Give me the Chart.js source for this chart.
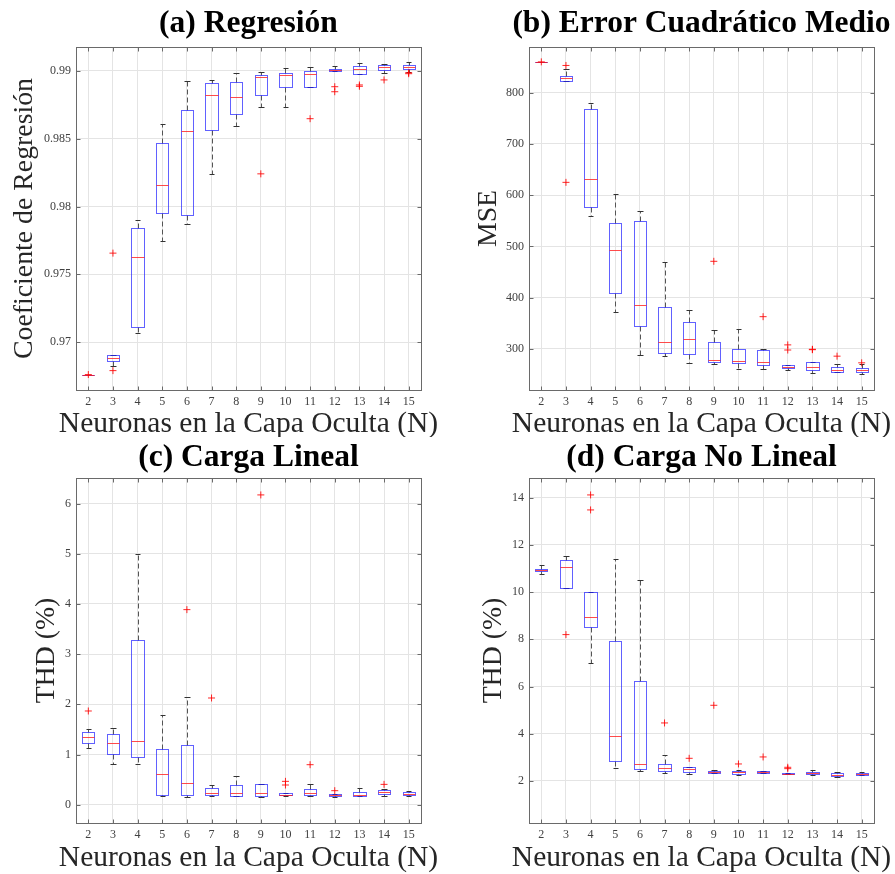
<!DOCTYPE html>
<html>
<head>
<meta charset="utf-8">
<script src="https://cdn.jsdelivr.net/npm/chart.js@4.4.0/dist/chart.umd.min.js"></script>
<style>
  body { margin: 0; background: #fff; }
  .panel { position: absolute; }
</style>
</head>
<body>
<div class="panel" style="left:0;top:0"><canvas id="chartA" width="447" height="437"></canvas></div>
<div class="panel" style="left:447px;top:0"><canvas id="chartB" width="448" height="437"></canvas></div>
<div class="panel" style="left:0;top:437px"><canvas id="chartC" width="447" height="437"></canvas></div>
<div class="panel" style="left:447px;top:437px"><canvas id="chartD" width="448" height="437"></canvas></div>
<script>
// categorias comunes
const neuronas = [2, 3, 4, 5, 6, 7, 8, 9, 10, 11, 12, 13, 14, 15];
const ejeX = 'Neuronas en la Capa Oculta (N)';

// (a) Regresion
const regMin = [0.9676, 0.9682, 0.97066, 0.97742, 0.9787, 0.98243, 0.98595, 0.98737, 0.98735, 0.9888, 0.98998, 0.98975, 0.98985, 0.9899];
const regQ1  = [0.9676, 0.96862, 0.97111, 0.97951, 0.97941, 0.98568, 0.98681, 0.98821, 0.9888, 0.98884, 0.98998, 0.98975, 0.9901, 0.99017];
const regMed = [0.9676, 0.96882, 0.97627, 0.98157, 0.98555, 0.98823, 0.98806, 0.98953, 0.98968, 0.98975, 0.99005, 0.99013, 0.99032, 0.99032];
const regQ3  = [0.9676, 0.96902, 0.97838, 0.98472, 0.9871, 0.98912, 0.98916, 0.98973, 0.98983, 0.98998, 0.99015, 0.99035, 0.99047, 0.99044];
const regMax = [0.9676, 0.96902, 0.97904, 0.98609, 0.98924, 0.98934, 0.98985, 0.98995, 0.99025, 0.99027, 0.99037, 0.99057, 0.99052, 0.99069];
const regOut = [[0.9676], [0.97656, 0.96789], [], [], [], [], [], [0.98241], [], [0.98648], [0.98884, 0.98847], [0.98897, 0.98887], [0.98934], [0.98987, 0.9898]];
const regTicks = [0.97, 0.975, 0.98, 0.985, 0.99];

// (b) Error cuadratico medio
const mseMin = [860, 822, 558.8, 372.2, 287.6, 285.7, 272, 270, 261, 261, 259, 253, 254.6, 250.6];
const mseQ1  = [860, 822.8, 576.3, 408.6, 344.9, 291.5, 289.6, 274.6, 272, 268.2, 263.5, 259, 255.7, 255.7];
const mseMed = [860, 828, 632.3, 493, 385.8, 314.3, 318.9, 279.2, 276, 275.3, 265.5, 264.3, 259, 259];
const mseQ3  = [860, 833, 767.5, 546.4, 549, 382.6, 352.7, 314.3, 299.4, 297.4, 268.5, 274, 264.3, 262.3];
const mseMax = [860, 845.5, 779.8, 601.7, 568.5, 469, 375.4, 337.7, 338.4, 299.4, 268.5, 274, 271, 270];
const mseOut = [[860], [853, 625], [], [], [], [], [], [471], [], [363], [308, 298], [299.4, 298.6], [286], [273]];
const mseTicks = [300, 400, 500, 600, 700, 800];

// (c) Carga lineal
const linMin = [1.13, 0.81, 0.81, 0.166, 0.16, 0.18, 0.166, 0.153, 0.166, 0.18, 0.16, 0.166, 0.18, 0.179];
const linQ1  = [1.229, 1.01, 0.944, 0.186, 0.193, 0.2, 0.166, 0.166, 0.186, 0.2, 0.166, 0.18, 0.219, 0.193];
const linMed = [1.349, 1.236, 1.276, 0.611, 0.425, 0.233, 0.233, 0.233, 0.2, 0.226, 0.186, 0.2, 0.252, 0.219];
const linQ3  = [1.449, 1.415, 3.282, 1.103, 1.189, 0.333, 0.4, 0.419, 0.233, 0.313, 0.206, 0.259, 0.285, 0.245];
const linMax = [1.502, 1.522, 5.003, 1.781, 2.14, 0.39, 0.578, 0.419, 0.233, 0.412, 0.213, 0.325, 0.306, 0.272];
const linOut = [[1.867], [], [], [], [3.887], [2.126], [], [6.173], [0.465, 0.392], [0.797], [0.279], [], [0.405], []];
const linTicks = [0, 1, 2, 3, 4, 5, 6];

// (d) Carga no lineal
const nlMin = [10.767, 10.16, 7.0, 2.551, 2.438, 2.353, 2.296, 2.325, 2.268, 2.325, 2.282, 2.24, 2.169, 2.254];
const nlQ1  = [10.88, 10.16, 8.523, 2.833, 2.494, 2.409, 2.367, 2.325, 2.296, 2.325, 2.282, 2.296, 2.212, 2.254];
const nlMed = [10.937, 11.05, 8.946, 3.906, 2.72, 2.565, 2.522, 2.381, 2.367, 2.367, 2.311, 2.339, 2.268, 2.296];
const nlQ3  = [10.993, 11.346, 10.005, 7.93, 6.25, 2.72, 2.607, 2.424, 2.424, 2.409, 2.353, 2.381, 2.339, 2.339];
const nlMax = [11.149, 11.53, 10.005, 11.403, 10.5, 3.115, 2.607, 2.466, 2.452, 2.424, 2.353, 2.466, 2.395, 2.367];
const nlOut = [[], [8.198], [14.113, 13.478], [], [], [4.457], [2.96], [5.205], [2.72], [3.017], [2.579, 2.522], [], [], []];
const nlTicks = [2, 4, 6, 8, 10, 12, 14];

const fuente = "'Liberation Serif', 'DejaVu Serif', serif";

function px(v) { return Math.round(v) + 0.5; }

// dibuja cajas, bigotes, medianas, marco y rotulos con las escalas del grafico
function cajasPlugin(st, titulo, geo) {
  return {
    id: 'cajas',
    beforeDatasetsDraw(chart) {
      const { ctx, scales: { x, y }, chartArea: a } = chart;
      ctx.save();
      ctx.beginPath();
      ctx.rect(a.left, a.top, a.width, a.height);
      ctx.clip();
      ctx.lineWidth = 1;
      function linea(x1, y1, x2, y2) {
        ctx.beginPath(); ctx.moveTo(x1, y1); ctx.lineTo(x2, y2); ctx.stroke();
      }
      neuronas.forEach(function (n, i) {
        const xc = px(x.getPixelForValue(n));
        const xl = px(x.getPixelForValue(n - 0.25));
        const xr = px(x.getPixelForValue(n + 0.25));
        const cl = px(x.getPixelForValue(n - 0.11));
        const cr = px(x.getPixelForValue(n + 0.11));
        const yMin = px(y.getPixelForValue(st.min[i]));
        const yQ1 = px(y.getPixelForValue(st.q1[i]));
        const yMed = px(y.getPixelForValue(st.med[i]));
        const yQ3 = px(y.getPixelForValue(st.q3[i]));
        const yMax = px(y.getPixelForValue(st.max[i]));
        // bigotes
        ctx.strokeStyle = '#555';
        ctx.setLineDash([5, 3]);
        if (yMax < yQ3) linea(xc, yQ3, xc, yMax);
        if (yMin > yQ1) linea(xc, yQ1, xc, yMin);
        ctx.setLineDash([]);
        ctx.strokeStyle = '#333';
        linea(cl, yMax, cr, yMax);
        linea(cl, yMin, cr, yMin);
        // caja
        ctx.strokeStyle = 'rgba(30,30,255,0.7)';
        ctx.strokeRect(xl, yQ3, xr - xl, yQ1 - yQ3);
        // mediana
        ctx.strokeStyle = 'rgba(255,30,30,0.8)';
        linea(xl, yMed, xr, yMed);
      });
      ctx.restore();
    },
    afterDraw(chart) {
      const { ctx, scales: { x, y }, chartArea: a } = chart;
      ctx.save();
      ctx.strokeStyle = '#6a6a6a';
      ctx.lineWidth = 1;
      const l = px(a.left), r = px(a.right), t = px(a.top), b = px(a.bottom);
      ctx.strokeRect(l, t, r - l, b - t);
      ctx.beginPath();
      y.ticks.forEach(function (tk) {
        const yy = px(y.getPixelForValue(tk.value));
        ctx.moveTo(l, yy); ctx.lineTo(l + 4, yy);
        ctx.moveTo(r, yy); ctx.lineTo(r - 4, yy);
      });
      x.ticks.forEach(function (tk) {
        const xx = px(x.getPixelForValue(tk.value));
        ctx.moveTo(xx, b); ctx.lineTo(xx, b - 4);
        ctx.moveTo(xx, t); ctx.lineTo(xx, t + 4);
      });
      ctx.stroke();
      // titulo del panel y del eje x, centrados sobre el area del grafico
      const cx = (a.left + a.right) / 2;
      ctx.textAlign = 'center';
      ctx.textBaseline = 'alphabetic';
      ctx.fillStyle = '#000';
      ctx.font = 'bold 31.5px ' + fuente;
      ctx.fillText(titulo, cx, geo.tBase);
      ctx.fillStyle = '#262626';
      ctx.font = '29.5px ' + fuente;
      ctx.fillText(ejeX, cx, geo.xBase);
      ctx.restore();
    }
  };
}

function crearPanel(id, titulo, ejeY, st, salidas, yMin, yMax, yTicks, geo) {
  const puntos = [];
  neuronas.forEach(function (n, i) {
    salidas[i].forEach(function (v) { puntos.push({ x: n, y: v }); });
  });
  return new Chart(document.getElementById(id), {
    type: 'scatter',
    data: {
      datasets: [{
        data: puntos,
        pointStyle: 'cross',
        radius: 3.5,
        borderColor: 'rgba(255,0,0,0.85)',
        backgroundColor: 'rgba(255,0,0,0.85)',
        borderWidth: 1
      }]
    },
    options: {
      responsive: false,
      animation: false,
      events: [],
      layout: { padding: { left: 0, right: geo.right, top: geo.top, bottom: 0 } },
      plugins: {
        legend: { display: false },
        tooltip: { enabled: false },
        title: { display: false }
      },
      scales: {
        x: {
          type: 'linear',
          min: 1.5,
          max: 15.5,
          afterBuildTicks: function (s) { s.ticks = neuronas.map(function (v) { return { value: v }; }); },
          afterFit: function (s) { s.height = geo.xh; },
          grid: { color: '#e4e4e4', drawTicks: false },
          border: { display: false },
          ticks: {
            padding: 5, color: '#404040', autoSkip: false, maxRotation: 0,
            font: { family: fuente, size: 12 },
            callback: function (v) { return String(v); }
          }
        },
        y: {
          type: 'linear',
          min: yMin,
          max: yMax,
          afterBuildTicks: function (s) { s.ticks = yTicks.map(function (v) { return { value: v }; }); },
          afterFit: function (s) { s.width = geo.yw; },
          grid: { color: '#e4e4e4', drawTicks: false },
          border: { display: false },
          ticks: {
            padding: 5, color: '#404040',
            font: { family: fuente, size: 12 },
            callback: function (v) { return String(v); }
          },
          title: {
            display: true,
            text: ejeY,
            color: '#262626',
            font: { family: fuente, size: 27.8, lineHeight: 1 },
            padding: { top: geo.yp, bottom: 0 }
          }
        }
      }
    },
    plugins: [cajasPlugin(st, titulo, geo)]
  });
}

crearPanel('chartA', '(a) Regresión', 'Coeficiente de Regresión',
  { min: regMin, q1: regQ1, med: regMed, q3: regQ3, max: regMax }, regOut,
  0.96646, 0.99177, regTicks,
  { yw: 76, right: 26, top: 47, xh: 47, tBase: 31.7, xBase: 432, yp: 11 });

crearPanel('chartB', '(b) Error Cuadrático Medio', 'MSE',
  { min: mseMin, q1: mseQ1, med: mseMed, q3: mseQ3, max: mseMax }, mseOut,
  220, 889, mseTicks,
  { yw: 82, right: 21, top: 47, xh: 47, tBase: 31.7, xBase: 432, yp: 28 });

crearPanel('chartC', '(c) Carga Lineal', 'THD (%)',
  { min: linMin, q1: linQ1, med: linMed, q3: linQ3, max: linMax }, linOut,
  -0.365, 6.51, linTicks,
  { yw: 76, right: 26, top: 41, xh: 51, tBase: 28.7, xBase: 429, yp: 33 });

crearPanel('chartD', '(d) Carga No Lineal', 'THD (%)',
  { min: nlMin, q1: nlQ1, med: nlMed, q3: nlQ3, max: nlMax }, nlOut,
  0.22, 14.83, nlTicks,
  { yw: 82, right: 21, top: 41, xh: 51, tBase: 28.7, xBase: 429, yp: 33 });
</script>
</body>
</html>
